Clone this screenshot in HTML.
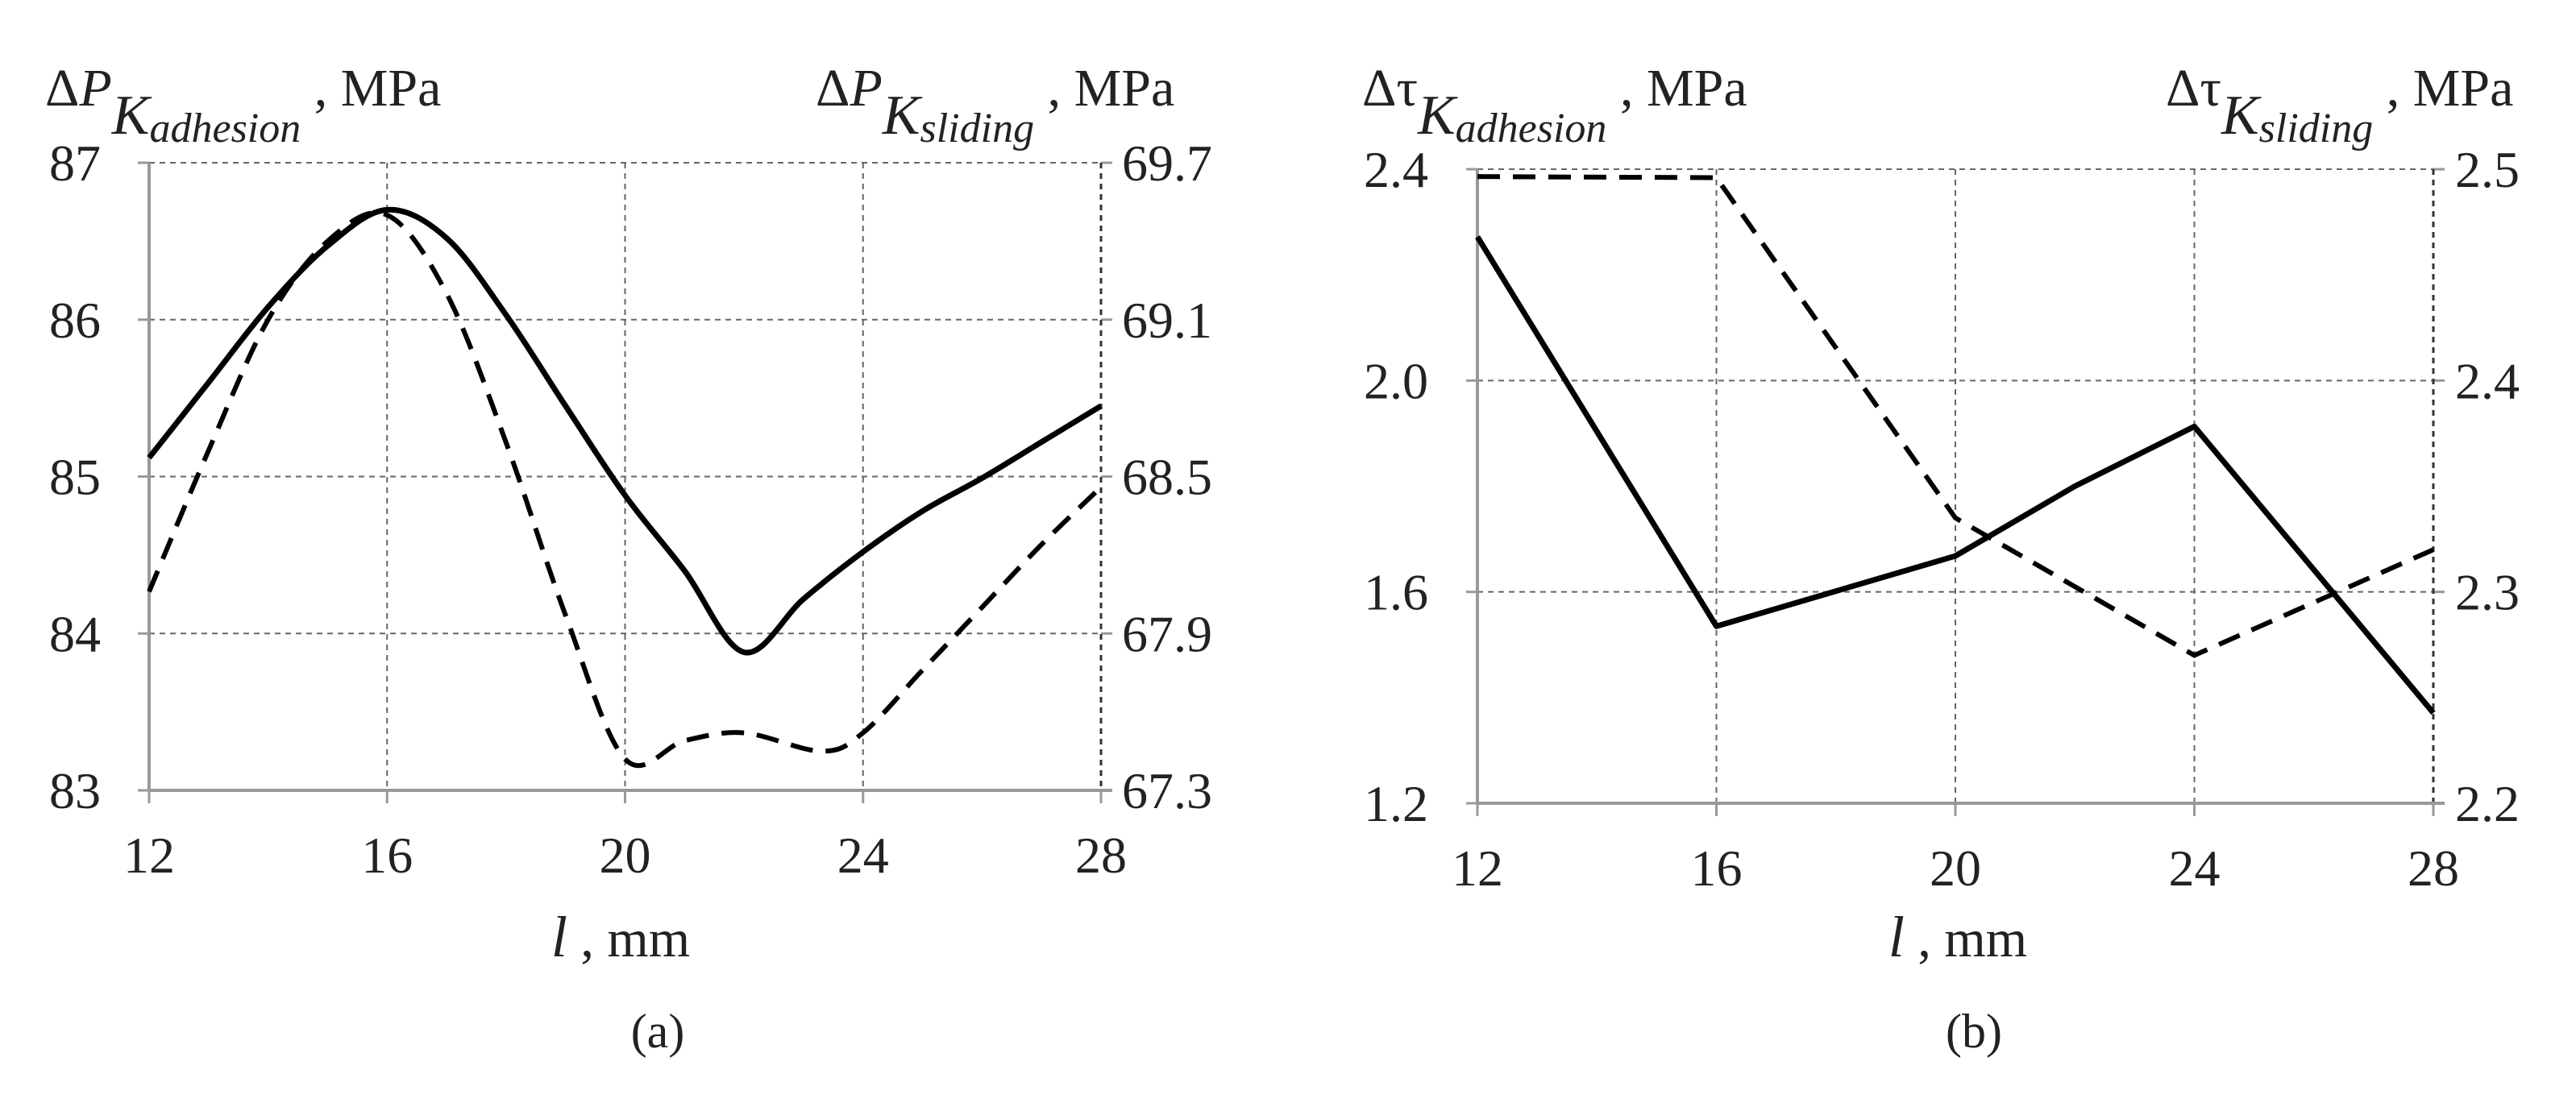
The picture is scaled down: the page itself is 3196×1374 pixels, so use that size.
<!DOCTYPE html>
<html><head><meta charset="utf-8"><style>
html,body{margin:0;padding:0;background:#fff;}
svg{display:block;font-family:"Liberation Serif",serif;}
</style></head><body>
<svg id="chart" width="3196" height="1374" viewBox="0 0 3196 1374" xmlns="http://www.w3.org/2000/svg">
<g id="pa"></g>
<g id="pb"></g>
</svg>
<script>
const xTicks = [12, 16, 20, 24, 28];
// Panel (a)
const aLeftTicks = [83, 84, 85, 86, 87];
const aRightTickLabels = ["67.3", "67.9", "68.5", "69.1", "69.7"];
const aSolidX = [12, 13, 14, 15, 16, 17, 18, 19, 20, 21, 22, 23, 24, 25, 26, 27, 28];
const aSolidY = [85.12, 85.60, 86.08, 86.47, 86.70, 86.52, 86.03, 85.45, 84.88, 84.40, 83.88, 84.22, 84.52, 84.78, 84.99, 85.22, 85.45];
const aDashX = [12, 13, 14, 15, 16, 17, 18, 19, 20, 21, 22, 23.3, 24, 25, 26, 27, 28];
const aDashY = [68.06, 68.60, 69.10, 69.40, 69.50, 69.20, 68.63, 67.97, 67.42, 67.49, 67.52, 67.45, 67.52, 67.76, 68.00, 68.24, 68.46];
// Panel (b)
const bLeftTicks = ["1.2", "1.6", "2.0", "2.4"];
const bRightTicks = ["2.2", "2.3", "2.4", "2.5"];
const bSolidX = [12, 16, 20, 22, 24, 28];
const bSolidY = [2.272, 1.535, 1.668, 1.80, 1.913, 1.371];
const bDashX = [12, 16, 20, 24, 28];
const bDashY = [2.4965, 2.496, 2.335, 2.27, 2.32];

const NS = "http://www.w3.org/2000/svg";
function mk(parent, tag, attrs, text) {
  const e = document.createElementNS(NS, tag);
  for (const k in attrs) e.setAttribute(k, attrs[k]);
  if (text !== undefined) e.textContent = text;
  parent.appendChild(e);
  return e;
}
function smoothPath(pts) {
  let d = "M" + pts[0][0] + "," + pts[0][1];
  for (let i = 0; i < pts.length - 1; i++) {
    const p0 = pts[Math.max(0, i - 1)], p1 = pts[i], p2 = pts[i + 1], p3 = pts[Math.min(pts.length - 1, i + 2)];
    const c1x = p1[0] + (p2[0] - p0[0]) / 6, c1y = p1[1] + (p2[1] - p0[1]) / 6;
    const c2x = p2[0] - (p3[0] - p1[0]) / 6, c2y = p2[1] - (p3[1] - p1[1]) / 6;
    d += " C" + c1x + "," + c1y + " " + c2x + "," + c2y + " " + p2[0] + "," + p2[1];
  }
  return d;
}
function linePath(pts) { return pts.map((p, i) => (i ? "L" : "M") + p[0] + "," + p[1]).join(" "); }

function panel(g, cfg) {
  const L = cfg.L, R = cfg.R, T = cfg.T, B = cfg.B;
  const sx = v => L + (v - 12) / 16 * (R - L);
  const syL = v => B - (v - cfg.lMin) / (cfg.lMax - cfg.lMin) * (B - T);
  const syR = v => B - (v - cfg.rMin) / (cfg.rMax - cfg.rMin) * (B - T);
  const nY = cfg.leftLabels.length;
  for (let i = 0; i < nY; i++) {
    const y = B - i / (nY - 1) * (B - T);
    if (i > 0) {
      const gl = mk(g, "line", {x1: L, x2: R, y1: y, y2: y, stroke: "#666", "stroke-width": 2, "stroke-dasharray": "7 6"});
      
      
    }
    const tl = mk(g, "line", {x1: L - 14, x2: L, y1: y, y2: y, stroke: "#999", "stroke-width": 3});
    
    
    const tr = mk(g, "line", {x1: R, x2: R + 14, y1: y, y2: y, stroke: "#999", "stroke-width": 3});
    
    
    const lt = mk(g, "text", {x: cfg.lLabX, y: y + 22, "text-anchor": "end", "font-size": 64, fill: "#222"}, cfg.leftLabels[i]);
    
    
    const rt = mk(g, "text", {x: cfg.rLabX, y: y + 22, "text-anchor": "start", "font-size": 64, fill: "#222"}, cfg.rightLabels[i]);
    
    
  }
  xTicks.forEach((v, i) => {
    const x = sx(v);
    if (i > 0) {
      const gl = mk(g, "line", {x1: x, x2: x, y1: T, y2: B, stroke: i === xTicks.length - 1 ? "#333" : "#666", "stroke-width": i === xTicks.length - 1 ? 3 : 2, "stroke-dasharray": "7 6"});
      
      
    }
    const tk = mk(g, "line", {x1: x, x2: x, y1: B, y2: B + 16, stroke: "#999", "stroke-width": 3});
    
    
    const tx = mk(g, "text", {x: x, y: B + 102, "text-anchor": "middle", "font-size": 64, fill: "#222"}, String(v));
    
    
  });
  const ax = mk(g, "line", {x1: L, x2: L, y1: T, y2: B, stroke: "#999", "stroke-width": 4});
  
  
  const bx = mk(g, "line", {x1: L, x2: R + 14, y1: B, y2: B, stroke: "#999", "stroke-width": 4});
  
  
  const sPts = cfg.sX.map((v, i) => [sx(v), syL(cfg.sY[i])]);
  const dPts = cfg.dX.map((v, i) => [sx(v), syR(cfg.dY[i])]);
  const sp = mk(g, "path", {d: cfg.smooth ? smoothPath(sPts) : linePath(sPts), fill: "none", stroke: "#000", "stroke-width": 7, "stroke-linejoin": "round"});
  
  
  const dp = mk(g, "path", {d: cfg.smooth ? smoothPath(dPts) : linePath(dPts), fill: "none", stroke: "#000", "stroke-width": 6, "stroke-dasharray": "28 16"});
  
  
  const t1 = mk(g, "text", {x: cfg.t1x, y: 131, "font-size": 66, fill: "#222"});
  
  
  t1.innerHTML = cfg.sym + '<tspan font-style="italic" dy="35" font-size="70">K</tspan><tspan font-style="italic" font-size="52" dy="10">adhesion</tspan><tspan dy="-45"> , MPa</tspan>';
  const t2 = mk(g, "text", {x: cfg.t2x, y: 131, "font-size": 66, fill: "#222"});
  
  
  t2.innerHTML = cfg.sym + '<tspan font-style="italic" dy="35" font-size="70">K</tspan><tspan font-style="italic" font-size="52" dy="10">sliding</tspan><tspan dy="-45"> , MPa</tspan>';
  const xl = mk(g, "text", {x: cfg.xlx, y: 1187, "text-anchor": "middle", "font-size": 66, fill: "#222"});
  
  
  xl.innerHTML = '<tspan font-style="italic" font-size="72">l</tspan> , mm';
  const cap = mk(g, "text", {x: cfg.capx, y: 1300, "text-anchor": "middle", "font-size": 60, fill: "#222"}, cfg.cap);
  
  
}

panel(document.getElementById("pa"), {
  L: 185, R: 1366, T: 202, B: 981, lMin: 83, lMax: 87, rMin: 67.3, rMax: 69.7,
  leftLabels: aLeftTicks.map(String), rightLabels: aRightTickLabels,
  lLabX: 125, rLabX: 1392, sX: aSolidX, sY: aSolidY, dX: aDashX, dY: aDashY, smooth: true,
  sym: 'Δ<tspan font-style="italic">P</tspan>', t1x: 56, t2x: 1012, xlx: 770, capx: 816, cap: "(a)"
});
panel(document.getElementById("pb"), {
  L: 1833, R: 3019, T: 210, B: 997, lMin: 1.2, lMax: 2.4, rMin: 2.2, rMax: 2.5,
  leftLabels: bLeftTicks, rightLabels: bRightTicks,
  lLabX: 1772, rLabX: 3046, sX: bSolidX, sY: bSolidY, dX: bDashX, dY: bDashY, smooth: false,
  sym: "Δτ", t1x: 1690, t2x: 2687, xlx: 2429, capx: 2449, cap: "(b)"
});
</script>
</body></html>
